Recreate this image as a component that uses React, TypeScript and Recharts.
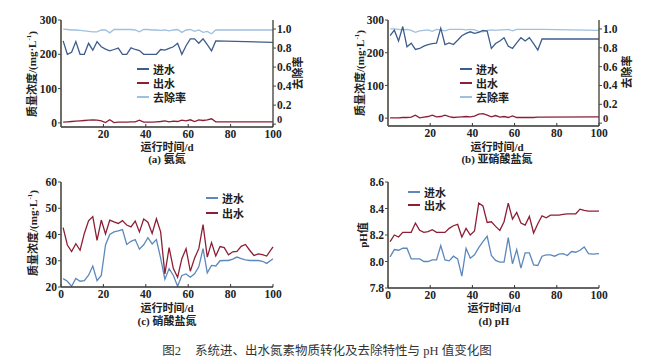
import React from 'react';
import { LineChart, Line, XAxis, YAxis } from 'recharts';

// sampling days
const daysTop = [1, 3, 5, 7, 9, 11, 13, 15, 17, 19, 21, 23, 25, 27, 29, 31, 33, 35, 37, 39, 41, 43, 45, 47, 49, 51, 53, 55, 57, 59, 61, 63, 65, 67, 69, 71, 73, 100];
const daysBottom = [1, 3, 5, 7, 9, 11, 13, 15, 17, 19, 21, 23, 25, 27, 29, 31, 33, 35, 37, 39, 41, 43, 45, 47, 49, 51, 53, 55, 57, 59, 61, 63, 65, 67, 69, 71, 73, 75, 77, 79, 81, 83, 85, 87, 89, 91, 93, 95, 97, 100];

// (a) 氨氮
const nh4In = [239, 200, 206, 237, 200, 200, 232, 212, 237, 222, 215, 210, 214, 218, 200, 200, 219, 214, 211, 200, 200, 200, 200, 214, 212, 217, 222, 232, 200, 225, 245, 245, 232, 245, 228, 210, 239, 235];
const nh4Out = [2, 3, 4, 5, 6, 7, 8, 9, 8, 6, 1, 9, 1, 2, 2, 2, 3, 3, 8, 2, 2, 2, 3, 4, 6, 3, 5, 4, 8, 6, 9, 4, 9, 7, 9, 12, 3, 3];
const nh4Rate = [1.0, 0.995, 0.99, 0.99, 0.985, 0.98, 0.975, 0.97, 0.97, 0.99, 0.99, 0.96, 0.995, 0.995, 0.995, 0.995, 0.995, 0.99, 0.97, 0.995, 0.995, 0.99, 0.99, 0.985, 0.99, 0.98, 0.99, 0.995, 0.965, 0.99, 0.995, 0.975, 0.99, 0.965, 0.975, 0.95, 0.99, 0.99];

// (b) 亚硝酸盐氮
const no2In = [252, 269, 236, 280, 218, 229, 210, 213, 220, 225, 228, 229, 275, 225, 230, 225, 238, 252, 259, 264, 259, 262, 268, 266, 213, 228, 236, 246, 220, 213, 230, 246, 236, 246, 228, 208, 242, 242];
const no2Out = [1, 1, 1, 2, 2, 3, 9, 1, 3, 5, 9, 4, 5, 9, 5, 2, 3, 4, 5, 4, 6, 12, 14, 9, 4, 8, 3, 5, 2, 7, 2, 2, 2, 2, 2, 3, 3, 4];
const no2Rate = [1.0, 1.0, 0.995, 0.99, 0.995, 0.985, 0.965, 0.98, 0.985, 0.99, 0.975, 0.995, 0.99, 0.98, 0.995, 0.995, 0.995, 0.995, 0.99, 0.995, 0.99, 0.975, 0.97, 0.985, 0.99, 0.985, 0.99, 0.99, 0.995, 0.98, 0.995, 0.995, 0.995, 0.995, 0.995, 0.995, 0.995, 0.985];

// (c) 硝酸盐氮
const no3In = [23.2, 22.2, 20.3, 23.3, 22.2, 22.4, 24.5, 28, 22.4, 24.4, 36, 40, 41, 41.4, 41.9, 36.2, 37.4, 38.1, 34.4, 36.1, 38.8, 36.4, 38.1, 31, 23, 27, 24.4, 20.3, 24.4, 25, 23.7, 25, 27.7, 34.6, 25.4, 28.2, 28, 30, 30.1, 30.1, 30.6, 31.4, 30.8, 30.3, 30.1, 30.1, 30.1, 29.8, 29, 30.8];
const no3Out = [42.6, 36, 33.5, 36.5, 34, 40.4, 45.2, 46.8, 37.8, 45.5, 40.2, 45.5, 44.8, 44.2, 45.3, 43.6, 42.9, 45.1, 41, 45.9, 44.7, 40.4, 46, 41, 25, 35, 27, 23.7, 30.8, 34.6, 26, 31, 34.6, 43.8, 31.4, 36.9, 31.8, 35.4, 35, 32.3, 33.4, 33.6, 35.5, 36.2, 34, 32, 32.6, 32.3, 31.8, 35.3];

// (d) pH
const phIn = [8.035, 8.09, 8.085, 8.1, 8.1, 8.02, 8.02, 8.02, 8.0, 8.0, 8.012, 8.012, 8.12, 8.012, 8.005, 8.04, 8.02, 7.89, 8.1, 8.025, 8.05, 8.105, 8.15, 8.19, 8.045, 8.008, 7.995, 7.995, 8.18, 7.982, 8.09, 7.95, 8.065, 8.065, 7.975, 7.97, 8.04, 8.05, 8.05, 8.04, 8.055, 8.06, 8.045, 8.075, 8.07, 8.085, 8.11, 8.06, 8.055, 8.06];
const phOut = [8.15, 8.2, 8.185, 8.22, 8.22, 8.22, 8.29, 8.235, 8.22, 8.225, 8.24, 8.22, 8.22, 8.22, 8.25, 8.27, 8.28, 8.185, 8.25, 8.2, 8.23, 8.44, 8.42, 8.295, 8.3, 8.265, 8.235, 8.3, 8.44, 8.32, 8.37, 8.29, 8.275, 8.34, 8.215, 8.285, 8.345, 8.33, 8.35, 8.35, 8.35, 8.355, 8.36, 8.36, 8.36, 8.395, 8.385, 8.38, 8.38, 8.38];

const xTicksTop = [20, 40, 60, 80, 100];
const xTicksBottom = [0, 20, 40, 60, 80, 100];
const concTicks = [0, 100, 200, 300];
const rateTicks = [0, 0.2, 0.4, 0.6, 0.8, 1.0];
const no3Ticks = [20, 30, 40, 50, 60];
const phTicks = [7.8, 8.0, 8.2, 8.4, 8.6];

const rows = (days: number[], cols: Record<string, number[]>) =>
  days.map((day, i) => {
    const r: Record<string, number> = { day };
    Object.keys(cols).forEach((k) => (r[k] = cols[k][i]));
    return r;
  });

const dataA = rows(daysTop, { inflow: nh4In, outflow: nh4Out, rate: nh4Rate });
const dataB = rows(daysTop, { inflow: no2In, outflow: no2Out, rate: no2Rate });
const dataC = rows(daysBottom, { inflow: no3In, outflow: no3Out });
const dataD = rows(daysBottom, { inflow: phIn, outflow: phOut });

const DARK_BLUE = '#3e5d8c';
const LIGHT_BLUE = '#5d88bb';
const RED = '#8c1f36';
const PALE = '#9fc0de';
const AXIS = '#4a4a40';

const tickFont = { fontFamily: '"Liberation Serif", serif', fontWeight: 700, fontSize: 11.5, fill: '#222' };
const labelFont = '"Liberation Serif", "Noto Sans CJK SC", serif';

// right-axis ticks; the "0" sits a little higher so it clears the x label "100"
const RateTick = ({ x, y, payload }: any) => (
  <text x={x} y={y} dy={payload.value === 0 ? -1 : 4} textAnchor="start" {...tickFont} fontSize={payload.value === 0 ? 10.5 : 11.5}>
    {payload.value === 0 ? '0' : Number(payload.value).toFixed(1)}
  </text>
);

const Text = ({ x, y, children, rotate, size = 11, weight = 700, color = '#222' }: any) => (
  <div
    style={{
      position: 'absolute', left: x, top: y, whiteSpace: 'nowrap',
      transform: `translate(-50%, -50%)${rotate ? ' rotate(-90deg)' : ''}`,
      fontFamily: labelFont, fontSize: size, fontWeight: weight, color, lineHeight: 1,
    }}
  >
    {children}
  </div>
);

const Legend = ({ x, y, items, gap }: { x: number; y: number; items: [string, string][]; gap: number }) => (
  <>
    {items.map(([name, color], i) => (
      <div key={name} style={{ position: 'absolute', left: x, top: y + i * gap - 7, display: 'flex', alignItems: 'center', height: 14 }}>
        <div style={{ width: 12, height: 1.6, background: color, marginRight: 4 }} />
        <span style={{ fontFamily: labelFont, fontSize: 11, fontWeight: 700, color: '#222' }}>{name}</span>
      </div>
    ))}
  </>
);

const Conc = () => (
  <>
    质量浓度/(mg·L<sup style={{ fontSize: 7 }}>-1</sup>)
  </>
);

type PanelProps = {
  left: number; top: number; width: number; height: number;
  data: Record<string, number>[];
  yDomain: [number, number]; yTicks: number[]; xTicks: number[];
  inflowColor: string; withRate?: boolean;
  fmt?: (v: number) => string;
};

const Panel = ({ left, top, width, height, data, yDomain, yTicks, xTicks, inflowColor, withRate, fmt }: PanelProps) => (
  <div style={{ position: 'absolute', left, top }}>
    <LineChart width={width} height={height} data={data} margin={{ top: 20, right: withRate ? 0 : 57, bottom: 0, left: 0 }}>
      <XAxis
        dataKey="day" type="number" domain={[0, 100]} ticks={xTicks} height={43}
        axisLine={{ stroke: '#333', strokeWidth: 1.3 }} tickLine={{ stroke: '#333' }}
        tickSize={-3} tickMargin={6} tick={tickFont} interval={0}
      />
      <YAxis
        yAxisId="l" domain={yDomain} ticks={yTicks} width={61} allowDataOverflow
        axisLine={{ stroke: AXIS, strokeWidth: 1.6 }} tickLine={{ stroke: AXIS }}
        tickSize={3} tickMargin={1} tick={tickFont} tickFormatter={fmt} interval={0}
      />
      {withRate && (
        <YAxis
          yAxisId="r" orientation="right" domain={[-0.03, 1.095]} ticks={rateTicks} width={57} allowDataOverflow
          axisLine={{ stroke: AXIS, strokeWidth: 1.4 }} tickLine={{ stroke: AXIS }}
          tickSize={3} tickMargin={1} tick={<RateTick />} interval={0}
        />
      )}
      {withRate && (
        <Line yAxisId="r" dataKey="rate" stroke={PALE} strokeWidth={1.3} dot={false} isAnimationActive={false} />
      )}
      <Line yAxisId="l" dataKey="inflow" stroke={inflowColor} strokeWidth={1.3} dot={false} isAnimationActive={false} />
      <Line yAxisId="l" dataKey="outflow" stroke={RED} strokeWidth={1.3} dot={false} isAnimationActive={false} />
    </LineChart>
  </div>
);

export default function App() {
  return (
    <div style={{ position: 'absolute', left: 0, top: 0, width: 653, height: 364, background: '#fff', overflow: 'hidden' }}>
      <Panel left={0} top={0} width={330} height={170} data={dataA} yDomain={[-12, 300]} yTicks={concTicks} xTicks={xTicksTop} inflowColor={DARK_BLUE} withRate />
      <Panel left={327} top={0} width={329} height={169} data={dataB} yDomain={[-24, 300]} yTicks={concTicks} xTicks={xTicksTop} inflowColor={DARK_BLUE} withRate />
      <Panel left={0} top={162} width={330} height={168} data={dataC} yDomain={[20, 60]} yTicks={no3Ticks} xTicks={xTicksBottom} inflowColor={LIGHT_BLUE} />
      <Panel left={327} top={162} width={329} height={169} data={dataD} yDomain={[7.8, 8.6]} yTicks={phTicks} xTicks={xTicksBottom} inflowColor={LIGHT_BLUE} fmt={(v: number) => v.toFixed(1)} />

      {/* legends */}
      <Legend x={137} y={69} gap={14} items={[['进水', DARK_BLUE], ['出水', RED], ['去除率', PALE]]} />
      <Legend x={460} y={69} gap={14} items={[['进水', DARK_BLUE], ['出水', RED], ['去除率', PALE]]} />
      <Legend x={206} y={198} gap={15} items={[['进水', LIGHT_BLUE], ['出水', RED]]} />
      <Legend x={408} y={192} gap={13} items={[['进水', LIGHT_BLUE], ['出水', RED]]} />

      {/* axis titles */}
      <Text x={32} y={74} rotate><Conc /></Text>
      <Text x={360} y={73} rotate><Conc /></Text>
      <Text x={33} y={233} rotate><Conc /></Text>
      <Text x={363} y={235} rotate>pH值</Text>
      <Text x={298} y={73} rotate>去除率</Text>
      <Text x={627} y={72} rotate>去除率</Text>

      <Text x={167} y={147}>运行时间/d</Text>
      <Text x={167} y={159}>(a) 氨氮</Text>
      <Text x={497} y={147}>运行时间/d</Text>
      <Text x={497} y={159}>(b) 亚硝酸盐氮</Text>
      <Text x={167} y={308}>运行时间/d</Text>
      <Text x={167} y={321}>(c) 硝酸盐氮</Text>
      <Text x={494} y={308}>运行时间/d</Text>
      <Text x={494} y={321}>(d) pH</Text>

      <Text x={327} y={351} size={12.5} weight={400} color="#333">
        图2<span style={{ marginLeft: 14 }}>系统进、出水氮素物质转化及去除特性与 pH 值变化图</span>
      </Text>
    </div>
  );
}
